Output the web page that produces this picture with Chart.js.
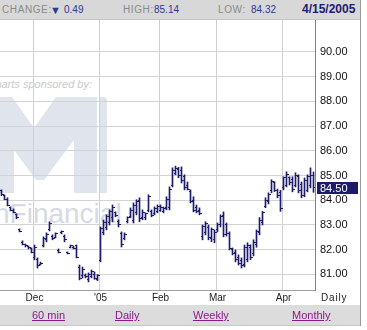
<!DOCTYPE html>
<html><head><meta charset="utf-8">
<script src="https://cdn.jsdelivr.net/npm/chart.js@4/dist/chart.umd.min.js"></script>
<style>
html,body{margin:0;padding:0;background:#fff;}
#wrap{position:relative;width:367px;height:330px;overflow:hidden;font-family:"Liberation Sans",Arial,sans-serif;}
#hdr{position:absolute;left:0;top:0;width:360px;height:19px;background:#d8d8d8;border-bottom:1px solid #c4c4c4;}
#hdr span{position:absolute;top:4px;font-size:10px;line-height:12px;white-space:nowrap;}
.lb{color:#8a8a8a;letter-spacing:0.6px;}
.vl{color:#2b3a8f;}
#dt{font-weight:bold;font-size:12px !important;color:#1c1c6e;top:3px !important;}
#ftr{position:absolute;left:0;top:305px;width:360px;height:20px;background:#dcdcdc;border-bottom:1px solid #c8c8c8;}
#ftr a{position:absolute;top:4px;font-size:11px;line-height:12px;color:#8a1a8a;text-decoration:underline;white-space:nowrap;}
#frame{position:absolute;left:360px;top:0;width:1px;height:326px;background:#9a9a9a;}
#wm{position:absolute;left:0;top:0;}
#cv{position:absolute;left:0;top:20px;}
#daily{position:absolute;left:321px;top:292px;font-size:10px;letter-spacing:0.8px;color:#222;}
</style></head>
<body><div id="wrap">
<svg id="wm" width="360" height="305" xmlns="http://www.w3.org/2000/svg">
  <text x="92" y="88" text-anchor="end" font-family="Liberation Sans, Arial" font-style="italic" font-size="11" fill="#cacaca">Charts sponsored by:</text>
  <polygon points="-5,97 12,97 34,128 56,97 97,97 97,193 74,193 74,140 44,180 36,180 14,150 14,193 -5,193" fill="#e0e4ed"/>
  <path d="M100,97 L103,97 Q107,97 107,101 L107,193 L100,193 Z" fill="#e0e4ed"/>
  <text x="-6" y="223" font-family="Liberation Sans, Arial" font-size="28" fill="#d5dae4">nFinancial</text>
</svg>
<div id="hdr">
  <span class="lb" style="left:2px">CHANGE:</span>
  <span class="vl" style="left:50px;font-size:11px">▼</span>
  <span class="vl" style="left:64px">0.49</span>
  <span class="lb" style="left:123px">HIGH:</span>
  <span class="vl" style="left:154px">85.14</span>
  <span class="lb" style="left:218px">LOW:</span>
  <span class="vl" style="left:251px">84.32</span>
  <span id="dt" style="left:302px">4/15/2005</span>
</div>
<canvas id="cv" width="360" height="285"></canvas>
<div id="daily">Daily</div>
<div id="ftr">
  <a style="left:32px">60 min</a>
  <a style="left:115px">Daily</a>
  <a style="left:193px">Weekly</a>
  <a style="left:292px">Monthly</a>
</div>
<div id="frame"></div>
</div>
<script>
// Trading days (MM/DD), Nov 15 2004 - Apr 15 2005
const dates = [
 '11/15','11/16','11/17','11/18','11/19','11/22','11/23','11/24','11/26','11/29','11/30',
 '12/01','12/02','12/03','12/06','12/07','12/08','12/09','12/10','12/13','12/14','12/15','12/16','12/17','12/20','12/21','12/22','12/23','12/27','12/28','12/29','12/30','12/31',
 '01/03','01/04','01/05','01/06','01/07','01/10','01/11','01/12','01/13','01/14','01/18','01/19','01/20','01/21','01/24','01/25','01/26','01/27','01/28','01/31',
 '02/01','02/02','02/03','02/04','02/07','02/08','02/09','02/10','02/11','02/14','02/15','02/16','02/17','02/18','02/22','02/23','02/24','02/25','02/28',
 '03/01','03/02','03/03','03/04','03/07','03/08','03/09','03/10','03/11','03/14','03/15','03/16','03/17','03/18','03/21','03/22','03/23','03/24','03/28','03/29','03/30','03/31',
 '04/01','04/04','04/05','04/06','04/07','04/08','04/11','04/12','04/13','04/14','04/15'
];
const highs = [
 84.42,84.22,84.10,83.73,83.65,83.45,82.84,82.36,82.23,82.15,82.07,
 82.19,81.67,81.50,82.52,82.68,83.13,82.60,82.68,82.03,82.76,82.60,81.91,82.19,82.15,82.19,81.38,81.30,81.02,81.06,81.18,81.10,81.00,
 82.92,83.20,83.41,83.61,83.81,83.53,83.21,82.72,82.68,83.33,83.69,83.89,84.02,84.10,83.61,83.49,84.22,83.61,83.73,83.81,
 83.81,83.73,84.14,84.54,85.31,85.38,85.33,85.35,85.03,84.74,84.42,84.14,83.81,83.69,83.00,83.13,83.00,82.88,82.80,
 83.08,83.41,83.53,83.08,82.72,82.07,81.99,81.79,81.67,82.19,82.28,82.20,82.40,82.80,83.30,83.55,84.10,84.30,84.83,84.75,84.45,84.40,
 84.95,85.15,84.95,84.95,85.11,85.03,84.74,84.90,85.03,85.31,85.14
];
const lows = [
 84.18,84.02,83.77,83.57,83.49,83.25,82.72,82.19,82.11,82.03,81.87,
 81.59,81.26,81.38,82.11,82.32,82.76,82.40,82.48,81.87,82.64,82.32,81.83,82.07,82.03,81.67,80.78,80.86,80.86,80.70,80.86,80.80,80.75,
 81.51,82.60,82.80,83.00,83.13,83.33,82.92,82.11,82.40,83.08,83.29,83.08,83.41,83.13,83.21,83.21,83.53,83.33,83.41,83.49,
 83.55,83.49,83.61,83.61,84.54,85.03,84.91,84.70,84.42,84.42,83.89,83.53,83.49,83.41,82.40,82.60,82.40,82.32,82.28,
 82.72,82.92,82.52,82.55,81.99,81.79,81.51,81.38,81.26,81.30,81.51,81.60,81.75,82.10,82.60,83.00,83.70,83.85,84.30,84.35,84.10,83.55,
 84.42,84.54,84.62,84.34,84.54,84.30,84.10,84.14,84.34,84.50,84.32
];
const opens = [
 84.40,84.20,84.05,83.70,83.60,83.42,82.80,82.30,82.20,82.12,82.05,
 81.70,81.60,81.40,82.15,82.40,82.80,82.55,82.50,81.95,82.70,82.55,81.88,82.10,82.10,82.15,81.30,80.95,80.95,80.80,80.90,81.00,80.80,
 81.55,82.70,82.90,83.10,83.30,83.50,83.15,82.65,82.45,83.15,83.35,83.20,83.50,84.00,83.30,83.30,83.60,83.55,83.45,83.55,
 83.60,83.55,83.70,83.70,84.60,85.10,85.25,85.20,84.95,84.60,84.35,84.00,83.70,83.60,82.55,82.70,82.90,82.45,82.40,
 82.80,83.00,83.40,83.00,82.65,82.00,81.90,81.70,81.55,81.40,81.60,82.10,81.85,82.20,82.70,83.10,83.75,83.95,84.40,84.70,84.40,84.30,
 84.50,84.60,84.90,84.85,84.60,84.95,84.65,84.20,84.40,84.60,85.00
];
const closes = [
 84.25,84.05,83.80,83.60,83.52,83.30,82.75,82.22,82.15,82.08,81.90,
 82.10,81.35,81.45,82.45,82.60,83.05,82.45,82.65,81.90,82.72,82.40,81.86,82.15,82.05,81.70,80.85,81.20,80.90,81.00,81.10,80.85,80.95,
 82.85,83.10,83.35,83.55,83.70,83.40,83.00,82.20,82.60,83.30,83.60,83.80,83.95,83.25,83.50,83.45,84.15,83.40,83.65,83.75,
 83.70,83.65,84.05,84.45,85.20,85.30,85.00,84.80,84.50,84.45,83.95,83.60,83.55,83.45,82.95,83.05,82.50,82.80,82.70,
 83.00,83.35,82.60,82.65,82.05,81.85,81.60,81.45,81.35,82.10,82.15,81.70,82.30,82.75,83.20,83.50,84.00,84.25,84.75,84.40,84.20,83.65,
 84.90,85.05,84.70,84.45,85.00,84.40,84.20,84.80,84.95,84.99,84.50
];
const yTicks = [81,82,83,84,85,86,87,88,89,90];
const monthLabels = {'12':'Dec','01':"'05",'02':'Feb','03':'Mar','04':'Apr'};

const BAR = '#1c1c6a';
function monthStart(i){ return i>0 && dates[i].slice(0,2)!==dates[i-1].slice(0,2); }

const ohlcTicks = {
  id:'ohlcTicks',
  afterDatasetsDraw(chart){
    const {ctx, chartArea:a, scales:{x,y}} = chart;
    ctx.save();
    ctx.beginPath(); ctx.rect(a.left,a.top,a.right-a.left,a.bottom-a.top); ctx.clip();
    ctx.fillStyle = BAR;
    for(let i=0;i<dates.length;i++){
      const cx = Math.floor(x.getPixelForValue(i));
      const yo = Math.round(y.getPixelForValue(opens[i])-0.5);
      const yc = Math.round(y.getPixelForValue(closes[i])-0.5);
      ctx.fillRect(cx-1, yo, 1, 1);
      ctx.fillRect(cx+1, yc, 2, 1);
    }
    ctx.restore();
  },
  afterDraw(chart){
    const {ctx, chartArea:a, scales:{y}} = chart;
    const last = closes[closes.length-1];
    const py = Math.round(y.getPixelForValue(last));
    ctx.save();
    ctx.fillStyle = '#1c1c6a';
    ctx.fillRect(a.right+2, py-6, 41, 12);
    ctx.fillStyle = '#fff';
    ctx.font = '11px "Liberation Sans", Arial, sans-serif';
    ctx.textBaseline = 'middle';
    ctx.fillText(last.toFixed(2), a.right+5, py+0.5);
    ctx.restore();
  }
};

new Chart(document.getElementById('cv'), {
  type:'bar',
  data:{
    labels: dates,
    datasets:[{
      data: lows.map((l,i)=>[l, highs[i]]),
      backgroundColor: BAR,
      borderWidth: 0,
      barThickness: 1,
      borderSkipped: false
    }]
  },
  options:{
    responsive:false, animation:false, devicePixelRatio:1,
    layout:{padding:0},
    plugins:{legend:{display:false}, tooltip:{enabled:false}},
    scales:{
      x:{
        offset:true,
        grid:{offset:true, drawTicks:false,
          color: c => (c.index < dates.length && monthStart(c.index)) ? '#cfcfcf' : 'rgba(0,0,0,0)'},
        border:{display:true, color:'#a0a0a0'},
        ticks:{autoSkip:false, maxRotation:0, minRotation:0, padding:2,
          font:{size:10, family:'"Liberation Sans", Arial, sans-serif'}, color:'#222',
          callback:(v,i)=> monthStart(i) ? monthLabels[dates[i].slice(0,2)] : ''},
        afterFit: s => { s.height = 15; s.paddingLeft = 0; s.paddingRight = 0; }
      },
      y:{
        position:'right',
        min:80.37, max:91.29,
        grid:{color:'#d3d3d3', drawTicks:false},
        border:{display:true, color:'#808080'},
        ticks:{padding:5, font:{size:11, family:'"Liberation Sans", Arial, sans-serif'}, color:'#111',
          callback: v => Number(v).toFixed(2)},
        afterBuildTicks: s => { s.ticks = yTicks.map(v=>({value:v})); },
        afterFit: s => { s.width = 45; s.paddingTop = 0; s.paddingBottom = 0; }
      }
    }
  },
  plugins:[ohlcTicks]
});
</script>
</body></html>
